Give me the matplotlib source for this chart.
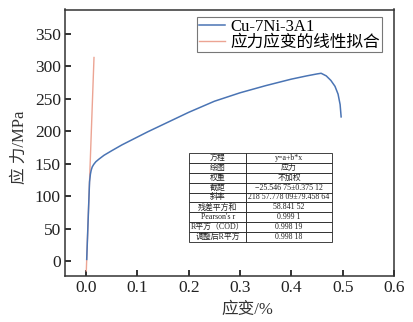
import matplotlib
matplotlib.use("Agg")
import matplotlib.pyplot as plt

plt.rcParams['font.family'] = ['Liberation Serif', 'Noto Sans CJK SC']
plt.rcParams['axes.unicode_minus'] = False

# Measured stress-strain curve
strain = [0.0013, 0.003, 0.005, 0.0068, 0.0085, 0.010, 0.012, 0.015, 0.019,
          0.025, 0.035, 0.05, 0.07, 0.09, 0.12, 0.16, 0.2, 0.25, 0.3, 0.35,
          0.4, 0.43, 0.45, 0.458, 0.468, 0.477, 0.485, 0.491, 0.495, 0.497]
stress = [3, 40, 84, 122, 134, 140, 145, 149, 153,
          157, 163, 170, 179, 187, 199, 214, 229, 246, 259, 270,
          280, 285, 288, 289, 285, 278, 269, 257, 241, 222]

# Linear fit of the elastic region: y = a + b*x
fit_a = -25.54675
fit_b = 21857.77809
fit_x = [0.0005, 0.0155]
fit_y = [fit_a + fit_b * v for v in fit_x]

xticks = [0.0, 0.1, 0.2, 0.3, 0.4, 0.5, 0.6]
yticks = [0, 50, 100, 150, 200, 250, 300, 350]

table_rows = [
    ["方程", "y=a+b*x"],
    ["绘图", "应力"],
    ["权重", "不加权"],
    ["截距", "−25.546 75±0.375 12"],
    ["斜率", "218 57.778 09±79.458 64"],
    ["残差平方和", "58.841 52"],
    ["Pearson's r", "0.999 1"],
    ["R平方（COD）", "0.998 19"],
    ["调整后R平方", "0.998 18"],
]

fig = plt.figure(figsize=(4.13, 3.22), dpi=100)
ax = fig.add_axes([65 / 413, 1 - 276 / 322, 329 / 413, 266.5 / 322])

ax.plot(strain, stress, color='#4a74b4', lw=1.1, label='Cu-7Ni-3A1', zorder=3)
ax.plot(fit_x, fit_y, color='#eca493', lw=1.0, label='应力应变的线性拟合', zorder=2)

ax.set_xlim(-0.041, 0.6)
ax.set_ylim(-22.5, 387)
ax.set_xticks(xticks)
ax.set_xticklabels([f"{t:.1f}" for t in xticks])
ax.set_yticks(yticks)
ax.tick_params(direction='in', length=4.5, width=1.3, labelsize=12.5,
               colors='#222222', pad=3)
for s in ax.spines.values():
    s.set_color('#333333')
    s.set_linewidth(1.1)

ax.set_xlabel('应变/%', fontsize=12, color='#333333')
ax.xaxis.set_label_coords(0.553, -0.098)
ax.set_ylabel('应 力/MPa', fontsize=12, color='#333333')
ax.yaxis.set_label_coords(-0.112, 0.482)

leg = ax.legend(loc='upper left', bbox_to_anchor=((197 - 65) / 329, (276 - 17) / 266.5),
                fontsize=12, frameon=True, fancybox=False, handlelength=1.6,
                handletextpad=0.3, labelspacing=0.0, borderpad=0.1,
                borderaxespad=0.0)
leg.get_frame().set_edgecolor('#555555')
leg.get_frame().set_linewidth(0.8)

tbl = ax.table(cellText=table_rows, cellLoc='center',
               colWidths=[0.174, 0.26],
               bbox=[(189 - 65) / 329, (276 - 242) / 266.5, 0.434, 0.334])
tbl.auto_set_font_size(False)
tbl.set_fontsize(5.7)
for (r, c), cell in tbl.get_celld().items():
    cell.set_linewidth(0.6)
    cell.set_edgecolor('#222222')
    cell.get_text().set_color('#222222')

fig.savefig('out.png', dpi=100)
